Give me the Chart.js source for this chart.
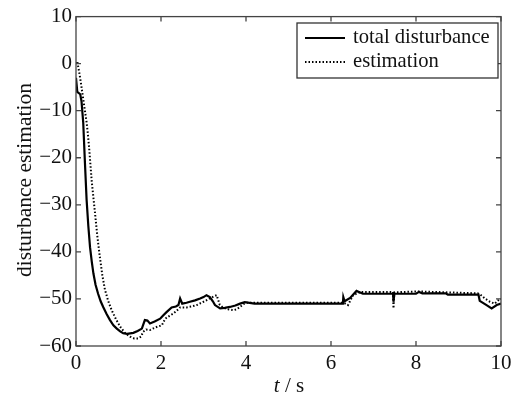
<!DOCTYPE html>
<html>
<head>
<meta charset="utf-8">
<script src="https://cdn.jsdelivr.net/npm/chart.js@4"></script>
<style>
  html, body { margin: 0; padding: 0; background: #fff; }
  #wrap { width: 525px; height: 400px; }
</style>
</head>
<body>
<div id="wrap"><canvas id="c" width="525" height="400"></canvas></div>
<script>
// ---- data ----
const solidT = [0,0.03,0.1,0.13,0.17,0.21,0.25,0.29,0.33,0.37,0.41,0.46,0.52,0.58,0.64,0.72,0.8,0.88,0.96,1.04,1.11,1.2,1.35,1.45,1.55,1.62,1.68,1.74,1.85,1.98,2.05,2.13,2.25,2.35,2.41,2.45,2.5,2.6,2.68,2.8,2.92,3.0,3.07,3.15,3.22,3.27,3.39,3.5,3.62,3.75,3.86,3.97,4.2,5.5,6.28,6.29,6.32,6.45,6.6,6.75,7.46,7.47,7.49,8.0,8.07,8.15,8.7,8.75,9.47,9.5,9.66,9.78,9.9,10];
const solidY = [-3,-6,-6.5,-8,-12.5,-21,-29,-34.5,-39,-42,-44.6,-47,-48.9,-50.5,-51.7,-53.2,-54.5,-55.6,-56.3,-56.9,-57.3,-57.4,-57.2,-56.8,-56.3,-54.5,-54.6,-55.2,-54.8,-54.2,-53.5,-52.8,-51.8,-51.6,-51.3,-49.9,-51,-50.8,-50.6,-50.3,-49.9,-49.6,-49.2,-49.6,-50.5,-51.3,-52,-51.9,-51.7,-51.4,-51,-50.7,-51,-51,-51,-49.6,-50.5,-49.8,-48.3,-48.9,-48.9,-50.6,-48.9,-48.9,-48.5,-48.8,-48.8,-49.1,-49.1,-50.4,-51.3,-52,-51.3,-51];
const estT = [0,0.03,0.09,0.13,0.17,0.21,0.25,0.28,0.31,0.34,0.37,0.41,0.45,0.5,0.56,0.62,0.68,0.76,0.84,0.94,1.04,1.15,1.27,1.37,1.47,1.53,1.58,1.65,1.74,1.88,2.02,2.1,2.2,2.29,2.37,2.45,2.6,2.72,2.84,3.0,3.15,3.25,3.31,3.38,3.45,3.58,3.7,3.78,3.86,3.94,4.02,6.3,6.4,6.52,6.7,7.46,7.47,7.49,8.05,8.7,9.45,9.5,9.62,9.74,9.85,9.97,10];
const estY = [0,0.5,-2.6,-5,-7.5,-10,-12.5,-15,-18,-21.5,-25,-28.5,-32,-36.5,-41,-45,-48,-50.5,-52.4,-54.3,-55.9,-57.2,-58,-58.4,-58.4,-58,-57,-56.5,-56.6,-56,-55.6,-54.2,-53.6,-53.1,-52.5,-51.8,-51.8,-51.6,-51.3,-50.6,-49.9,-49.4,-49.2,-51.2,-51.8,-52.2,-52.4,-52.2,-51.7,-51.1,-50.8,-50.8,-51.3,-49.2,-48.5,-48.5,-52,-48.6,-48.4,-48.6,-48.8,-49,-49.9,-50.6,-51,-50,-50];
const xTicks = [0,2,4,6,8,10];
const yTicks = [10,0,-10,-20,-30,-40,-50,-60];
const seriesLabels = ['total disturbance','estimation'];
const xTitleItalic = 't';
const xTitleRest = ' / s';
const yTitle = 'disturbance estimation';

const FONT = "'Liberation Serif', 'Times New Roman', serif";
const toXY = (ts, ys) => ts.map((t, i) => ({x: t, y: ys[i]}));

const framePlugin = {
  id: 'frame',
  afterDraw(chart) {
    const ctx = chart.ctx;
    const a = chart.chartArea;
    const xs = chart.scales.x, ys = chart.scales.y;
    ctx.save();
    ctx.strokeStyle = '#444';
    ctx.lineWidth = 1.3;
    ctx.strokeRect(a.left, a.top, a.right - a.left, a.bottom - a.top);
    const L = 5;
    ctx.beginPath();
    xTicks.forEach(v => {
      const p = xs.getPixelForValue(v);
      ctx.moveTo(p, a.bottom); ctx.lineTo(p, a.bottom - L);
      ctx.moveTo(p, a.top); ctx.lineTo(p, a.top + L);
    });
    yTicks.forEach(v => {
      const p = ys.getPixelForValue(v);
      ctx.moveTo(a.left, p); ctx.lineTo(a.left + L, p);
      ctx.moveTo(a.right, p); ctx.lineTo(a.right - L, p);
    });
    ctx.stroke();

    // legend box
    const bx = 297, by = 23, bw = 201, bh = 55;
    ctx.fillStyle = '#fff';
    ctx.fillRect(bx, by, bw, bh);
    ctx.strokeStyle = '#333';
    ctx.lineWidth = 1.3;
    ctx.strokeRect(bx, by, bw, bh);
    const rows = [by + 15, by + 39];
    chart.data.datasets.forEach((ds, i) => {
      ctx.beginPath();
      ctx.strokeStyle = ds.borderColor;
      ctx.lineWidth = ds.borderWidth;
      ctx.setLineDash(ds.borderDash || []);
      ctx.moveTo(bx + 8, rows[i]); ctx.lineTo(bx + 48, rows[i]);
      ctx.stroke();
      ctx.setLineDash([]);
      ctx.fillStyle = '#111';
      ctx.font = '20.6px ' + FONT;
      ctx.textBaseline = 'middle';
      ctx.textAlign = 'left';
      ctx.fillText(ds.label, bx + 56, rows[i]);
    });

    // axis titles
    ctx.fillStyle = '#111';
    ctx.textBaseline = 'alphabetic';
    ctx.font = 'italic 21px ' + FONT;
    const w1 = ctx.measureText(xTitleItalic).width;
    ctx.font = '21px ' + FONT;
    const w2 = ctx.measureText(xTitleRest).width;
    const cx = 289, startX = cx - (w1 + w2) / 2;
    ctx.font = 'italic 21px ' + FONT;
    ctx.textAlign = 'left';
    ctx.fillText(xTitleItalic, startX, 392);
    ctx.font = '21px ' + FONT;
    ctx.fillText(xTitleRest, startX + w1, 392);

    ctx.translate(25, 180);
    ctx.rotate(-Math.PI / 2);
    ctx.textAlign = 'center';
    ctx.textBaseline = 'middle';
    ctx.font = '21.5px ' + FONT;
    ctx.fillText(yTitle, 0, 0);
    ctx.restore();
  }
};

new Chart(document.getElementById('c'), {
  type: 'line',
  data: {
    datasets: [
      {
        label: seriesLabels[0],
        data: toXY(solidT, solidY),
        borderColor: '#000',
        borderWidth: 2.2,
        pointRadius: 0,
        tension: 0,
        fill: false
      },
      {
        label: seriesLabels[1],
        data: toXY(estT, estY),
        borderColor: '#000',
        borderWidth: 2,
        borderDash: [1.5, 2],
        pointRadius: 0,
        tension: 0,
        fill: false
      }
    ]
  },
  options: {
    responsive: false,
    animation: false,
    devicePixelRatio: 1,
    layout: { padding: { top: 15, right: 24, left: 0, bottom: 0 } },
    plugins: { legend: { display: false }, tooltip: { enabled: false } },
    scales: {
      x: {
        type: 'linear',
        min: 0, max: 10,
        afterBuildTicks(s) { s.ticks = xTicks.map(v => ({value: v})); },
        afterFit(s) { s.height = 54; },
        grid: { display: false, drawTicks: false },
        border: { display: false },
        ticks: { color: '#111', padding: 5, font: { family: FONT, size: 21 }, maxRotation: 0 }
      },
      y: {
        type: 'linear',
        min: -60, max: 10,
        afterBuildTicks(s) { s.ticks = yTicks.map(v => ({value: v})); },
        afterFit(s) { s.width = 76; },
        grid: { display: false, drawTicks: false },
        border: { display: false },
        ticks: {
          color: '#111', padding: 4, font: { family: FONT, size: 21 },
          callback: v => String(v).replace('-', '\u2212')
        }
      }
    }
  },
  plugins: [framePlugin]
});
</script>
</body>
</html>
